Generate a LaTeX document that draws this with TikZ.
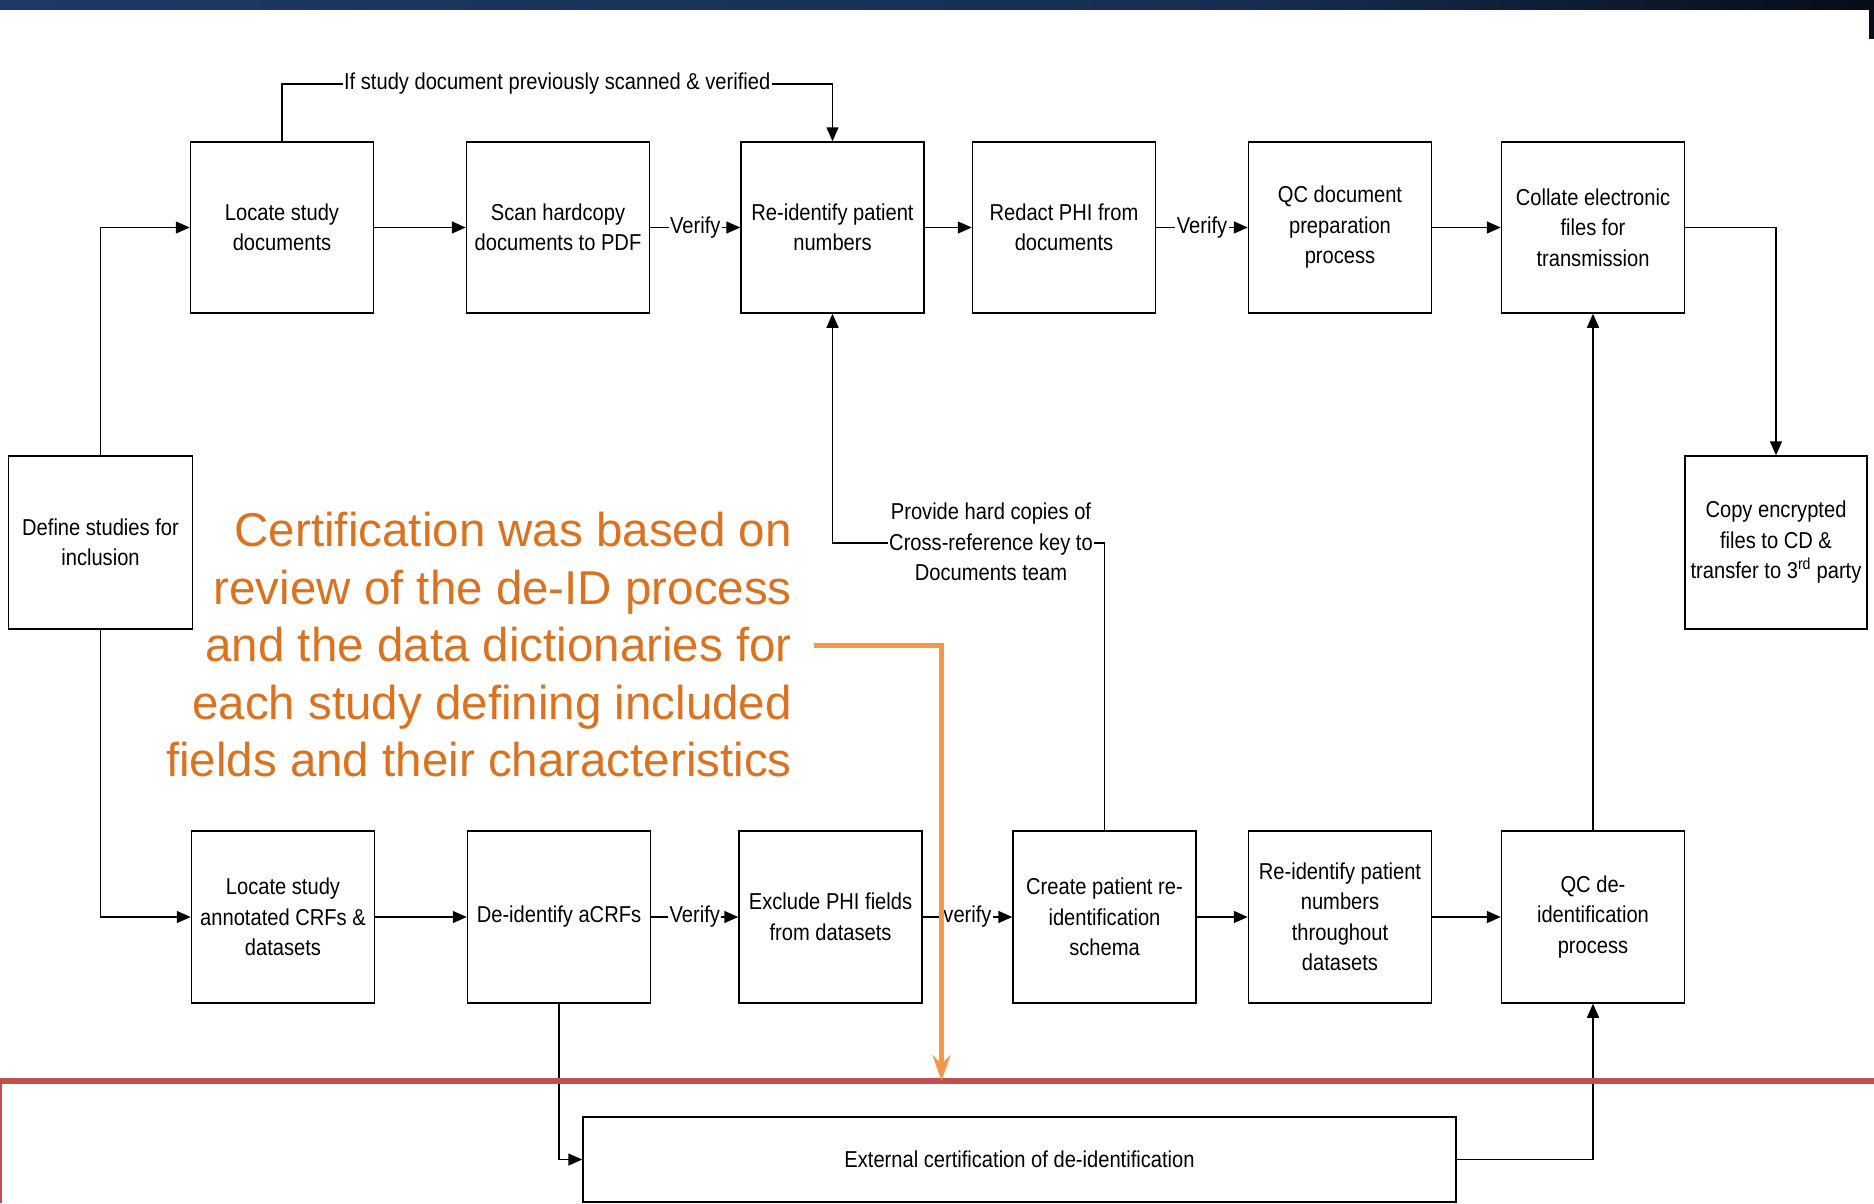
\documentclass[tikz,border=0pt]{standalone}
\usepackage{fontspec}
\setmainfont{Liberation Sans}
\newfontfamily\narrowfont{Liberation Sans}[FakeStretch=0.875]
\usetikzlibrary{arrows.meta,calc}
\definecolor{barL}{RGB}{28,58,100}
\definecolor{barM}{RGB}{22,46,82}
\definecolor{barR}{RGB}{8,12,24}
\definecolor{certorange}{RGB}{218,114,32}
\definecolor{arroworange}{RGB}{247,150,70}
\definecolor{redline}{RGB}{192,80,77}
\tikzset{
  procbox/.style={draw, line width=1.5pt, fill=white, minimum width=183pt, minimum height=171pt,
    align=center, inner sep=0pt, font=\narrowfont\fontsize{23}{30.5}\selectfont},
  conn/.style={line width=1.5pt, -{Triangle[length=14pt,width=12pt]}},
  lbl/.style={fill=white, inner sep=1.5pt, font=\narrowfont\fontsize{23}{30.5}\selectfont, align=center},
  certtext/.style={text=certorange, align=right, inner sep=0pt, font=\fontsize{47.5}{57.5}\selectfont},
  orangearrow/.style={draw=arroworange, line width=5pt, -{Stealth[length=26pt,width=18pt,inset=9pt]}}
}
\begin{document}
\begin{tikzpicture}[x=1pt,y=-1pt]
\useasboundingbox (0,0) rectangle (1874,1203);
% top bar
\shade[left color=barL, right color=barM] (0,0) rectangle (1250,9);
\shade[left color=barM, right color=barR] (1250,0) rectangle (1874,9);
\fill[barR] (1869,9) rectangle (1874,39);

% top row
\node[procbox] (locdoc) at (282,227.5) {Locate study\\documents};
\node[procbox] (scan) at (558,227.5) {Scan hardcopy\\documents to PDF};
\node[procbox] (reid) at (832.5,227.5) {Re-identify patient\\numbers};
\node[procbox] (redact) at (1064,227.5) {Redact PHI from\\documents};
\node[procbox] (qcdoc) at (1340,227.5) {QC document\\preparation\\process};
\node[procbox] (collate) at (1593,227.5) {Collate electronic\\files for\\transmission};

% side boxes
\node[procbox, minimum width=184pt, minimum height=173pt] (define) at (100.5,542.5) {Define studies for\\inclusion};
\node[procbox, minimum width=182pt, minimum height=173pt] (copy) at (1776,542.5) {Copy encrypted\\files to CD \&\\transfer to 3\textsuperscript{rd} party};

% bottom row
\node[procbox, minimum height=172pt] (locann) at (283,917) {Locate study\\annotated CRFs \&\\datasets};
\node[procbox, minimum height=172pt] (deid) at (559,917) {De-identify aCRFs};
\node[procbox, minimum height=172pt] (exclude) at (830.5,917) {Exclude PHI fields\\from datasets};
\node[procbox, minimum height=172pt] (create) at (1104.5,917) {Create patient re-\\identification\\schema};
\node[procbox, minimum height=172pt] (reidt) at (1340,917) {Re-identify patient\\numbers\\throughout\\datasets};
\node[procbox, minimum height=172pt] (qcde) at (1593,917) {QC de-\\identification\\process};

% external certification box
\node[procbox, minimum width=873pt, minimum height=85pt] (ext) at (1019.5,1159.5) {External certification of de-identification};

% connectors top
\draw[conn] (locdoc.north) -- (locdoc.north |- 0,84) -- node[lbl]{If study document previously scanned \& verified} (reid.north |- 0,84) -- (reid.north);
\draw[conn] (define.north) |- (locdoc.west);
\draw[conn] (define.south) |- (locann.west);
\draw[conn] (locdoc.east) -- (scan.west);
\draw[conn] (scan.east) -- node[lbl]{Verify} (reid.west);
\draw[conn] (reid.east) -- (redact.west);
\draw[conn] (redact.east) -- node[lbl]{Verify} (qcdoc.west);
\draw[conn] (qcdoc.east) -- (collate.west);
\draw[conn] (collate.east) -| (copy.north);

% connectors bottom
\draw[conn] (locann.east) -- (deid.west);
\draw[conn] (deid.east) -- node[lbl]{Verify} (exclude.west);
\draw[conn] (exclude.east) -- node[lbl]{verify} (create.west);
\draw[conn] (create.east) -- (reidt.west);
\draw[conn] (reidt.east) -- (qcde.west);
\draw[conn] (qcde.north) -- (collate.south);
\draw[conn] (create.north) -- (create.north |- 0,543) -- (reid.south |- 0,543) -- (reid.south);
\node[lbl] (provide) at (991,542) {Provide hard copies of\\Cross-reference key to\\Documents team};
\draw[conn] (deid.south) |- (ext.west);
\draw[conn] (ext.east) -| (qcde.south);

% red line
\fill[redline] (0,1078) rectangle (1874,1084);
\draw[redline, line width=1.5pt] (0.75,1084) -- (0.75,1203);

% certification note
\node[certtext, anchor=east] (cert) at (792,645) {Certification was based on\\review of the de-ID process\\and the data dictionaries for\\each study defining included\\fields and their characteristics};
\coordinate (oa) at (814,645);
\coordinate (ob) at (941.5,1081);
\draw[orangearrow] (oa) -- (oa -| ob) -- (ob);
\end{tikzpicture}
\end{document}
